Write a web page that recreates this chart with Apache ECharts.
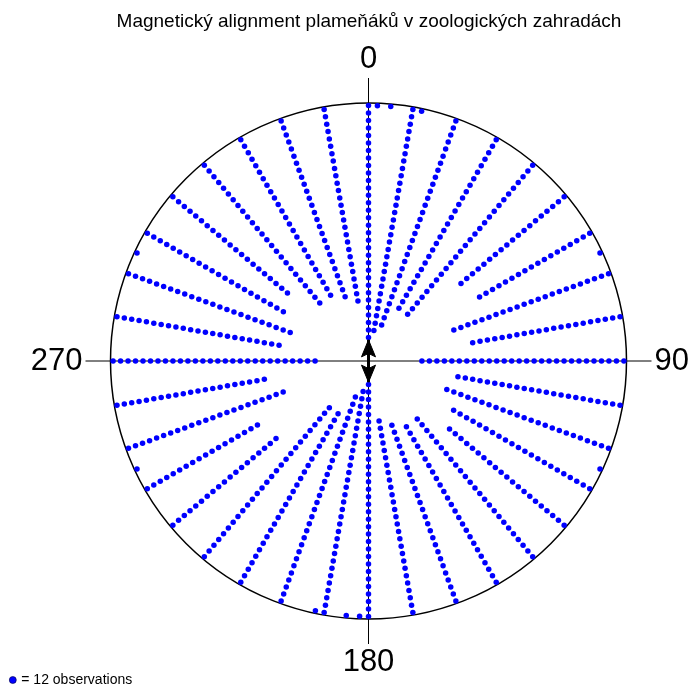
<!DOCTYPE html>
<html>
<head>
<meta charset="utf-8">
<title>Magnetický alignment plameňáků</title>
<script src="https://cdn.jsdelivr.net/npm/echarts@6/dist/echarts.min.js"></script>
<style>
html, body { margin: 0; padding: 0; background: #fff; }
#chart { width: 692px; height: 690px; }
</style>
</head>
<body>
<div id="chart"></div>
<script>
// axial data: every direction is drawn twice, at theta and theta + 180
var stackAngles = [0, 10, 20, 30, 40, 50, 60, 70, 80, 90, 100, 110, 120, 130, 140, 150, 160, 170];
var stackDots = [32, 31, 30, 27, 27, 19, 18, 23, 21, 28, 23, 24, 22, 21, 25, 25, 26, 27];
// lone dots between the 10-degree directions
var singleAngles = [2, 5, 12, 65, 115];
var singleDots = [1, 1, 1, 1, 1];
// mean axis (deg) and resultant length (fraction of the radius)
var meanAxis = 0;
var meanLength = 0.082;
var cardinalLabels = ['0', '90', '180', '270'];

var FONT = '"Liberation Sans", Arial, sans-serif';
var DOT_START = 0.99;   // first dot sits on the rim
var DOT_STEP = 0.029;   // dots stack inward

function buildDots() {
    var pts = [];
    var angles = stackAngles.concat(singleAngles);
    var counts = stackDots.concat(singleDots);
    angles.forEach(function (a, i) {
        [a, a + 180].forEach(function (dir) {
            for (var j = 0; j < counts[i]; j++) {
                pts.push([DOT_START - j * DOT_STEP, dir % 360]);
            }
        });
    });
    return pts;
}

var chart = echarts.init(document.getElementById('chart'));
chart.setOption({
    animation: false,
    title: {
        text: 'Magnetický alignment plameňáků v zoologických zahradách',
        left: 364,
        top: 7,
        textAlign: 'center',
        textStyle: { fontFamily: FONT, fontSize: 19, fontWeight: 'normal', color: '#000' }
    },
    legend: {
        data: [{ name: '= 12 observations', icon: 'circle' }],
        left: 4,
        top: 668,
        itemWidth: 7,
        itemHeight: 7,
        itemStyle: { borderColor: '#000040', borderWidth: 0.6 },
        textStyle: { fontFamily: FONT, fontSize: 14, color: '#000' }
    },
    polar: {
        center: [368.5, 361],
        radius: 258
    },
    angleAxis: {
        type: 'value',
        min: 0,
        max: 360,
        interval: 90,
        startAngle: 90,
        clockwise: true,
        axisLine: { lineStyle: { color: '#000', width: 1.5 } },
        axisTick: { show: true, length: 25, lineStyle: { color: '#000', width: 1 } },
        axisLabel: {
            margin: 28,
            fontFamily: FONT,
            fontSize: 31,
            color: '#000',
            formatter: function (v) {
                return v >= 360 ? '' : cardinalLabels[v / 90];
            }
        },
        splitLine: { show: true, lineStyle: { color: '#000', width: 1 } }
    },
    radiusAxis: {
        min: 0,
        max: 1,
        show: false
    },
    series: [
        {
            name: '= 12 observations',
            type: 'scatter',
            coordinateSystem: 'polar',
            symbol: 'circle',
            symbolSize: 5.5,
            itemStyle: { color: '#0000ff', opacity: 1 },
            silent: true,
            data: buildDots()
        },
        {
            name: 'mean axis',
            type: 'custom',
            coordinateSystem: 'polar',
            z: 5,
            silent: true,
            data: [[meanLength, meanAxis], [meanLength, meanAxis + 180]],
            renderItem: function (params, api) {
                var tip = api.coord([api.value(0), api.value(1)]);
                var c = api.coord([0, api.value(1)]);
                var dx = tip[0] - c[0], dy = tip[1] - c[1];
                var len = Math.sqrt(dx * dx + dy * dy) || 1;
                var ux = dx / len, uy = dy / len;
                var px = -uy, py = ux;
                var head = 17, half = 7;
                var bx = tip[0] - ux * head, by = tip[1] - uy * head;
                var nx = tip[0] - ux * head * 0.8, ny = tip[1] - uy * head * 0.8;
                return {
                    type: 'group',
                    children: [
                        {
                            type: 'line',
                            shape: { x1: c[0], y1: c[1], x2: tip[0], y2: tip[1] },
                            style: { stroke: '#000', lineWidth: 3 }
                        },
                        {
                            type: 'polygon',
                            shape: { points: [tip, [bx + px * half, by + py * half], [nx, ny], [bx - px * half, by - py * half]] },
                            style: { fill: '#000', stroke: '#000', lineWidth: 1 }
                        }
                    ]
                };
            }
        }
    ]
});
</script>
</body>
</html>
